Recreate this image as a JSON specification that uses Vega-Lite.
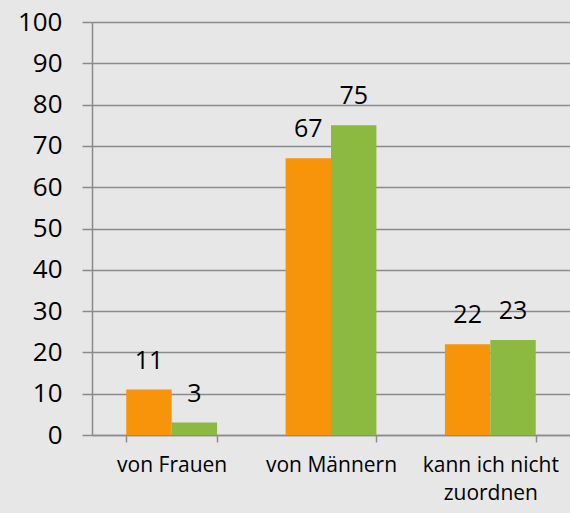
{
  "$schema": "https://vega.github.io/schema/vega-lite/v6.json",
  "width": 478,
  "height": 413,
  "autosize": {"type": "none"},
  "padding": {"left": 92, "top": 22, "right": 0, "bottom": 78},
  "background": "#e7e7e7",
  "config": {
    "view": {"stroke": null},
    "font": "Open Sans"
  },
  "data": {
    "values": [
      {"Kategorie": "von Frauen", "Gruppe": "A", "Wert": 11},
      {"Kategorie": "von Frauen", "Gruppe": "B", "Wert": 3},
      {"Kategorie": "von Männern", "Gruppe": "A", "Wert": 67},
      {"Kategorie": "von Männern", "Gruppe": "B", "Wert": 75},
      {"Kategorie": "kann ich nicht zuordnen", "Gruppe": "A", "Wert": 22},
      {"Kategorie": "kann ich nicht zuordnen", "Gruppe": "B", "Wert": 23}
    ]
  },
  "encoding": {
    "x": {
      "field": "Kategorie",
      "type": "nominal",
      "sort": null,
      "title": null,
      "scale": {"paddingInner": 0.43, "paddingOuter": 0.215},
      "axis": {
        "labelAngle": 0,
        "tickBand": "extent",
        "tickSize": 7,
        "tickColor": "#8c8c8c",
        "tickWidth": 1.5,
        "domainColor": "#8c8c8c",
        "domainWidth": 1.5,
        "labelFontSize": 21,
        "labelColor": "#000000",
        "labelPadding": 12,
        "labelLineHeight": 28,
        "labelBaseline": "top",
        "labelExpr": "datum.label == 'kann ich nicht zuordnen' ? ['kann ich nicht', 'zuordnen'] : datum.label"
      }
    },
    "xOffset": {"field": "Gruppe", "type": "nominal"},
    "y": {
      "field": "Wert",
      "type": "quantitative",
      "title": null,
      "scale": {"domain": [0, 100], "nice": false},
      "axis": {
        "values": [0, 10, 20, 30, 40, 50, 60, 70, 80, 90, 100],
        "grid": true,
        "gridColor": "#8a8a8a",
        "gridWidth": 1.5,
        "tickSize": 10,
        "tickColor": "#8a8a8a",
        "tickWidth": 1.5,
        "domainColor": "#8a8a8a",
        "domainWidth": 1.5,
        "labelFontSize": 26,
        "labelColor": "#000000",
        "labelPadding": 20
      }
    }
  },
  "layer": [
    {
      "mark": {"type": "bar"},
      "encoding": {
        "color": {
          "field": "Gruppe",
          "type": "nominal",
          "scale": {"domain": ["A", "B"], "range": ["#f7940a", "#8cb940"]},
          "legend": null
        }
      }
    },
    {
      "mark": {"type": "text", "baseline": "alphabetic", "dy": -21, "fontSize": 25, "color": "#000000"},
      "encoding": {
        "text": {"field": "Wert", "type": "quantitative"}
      }
    }
  ]
}
